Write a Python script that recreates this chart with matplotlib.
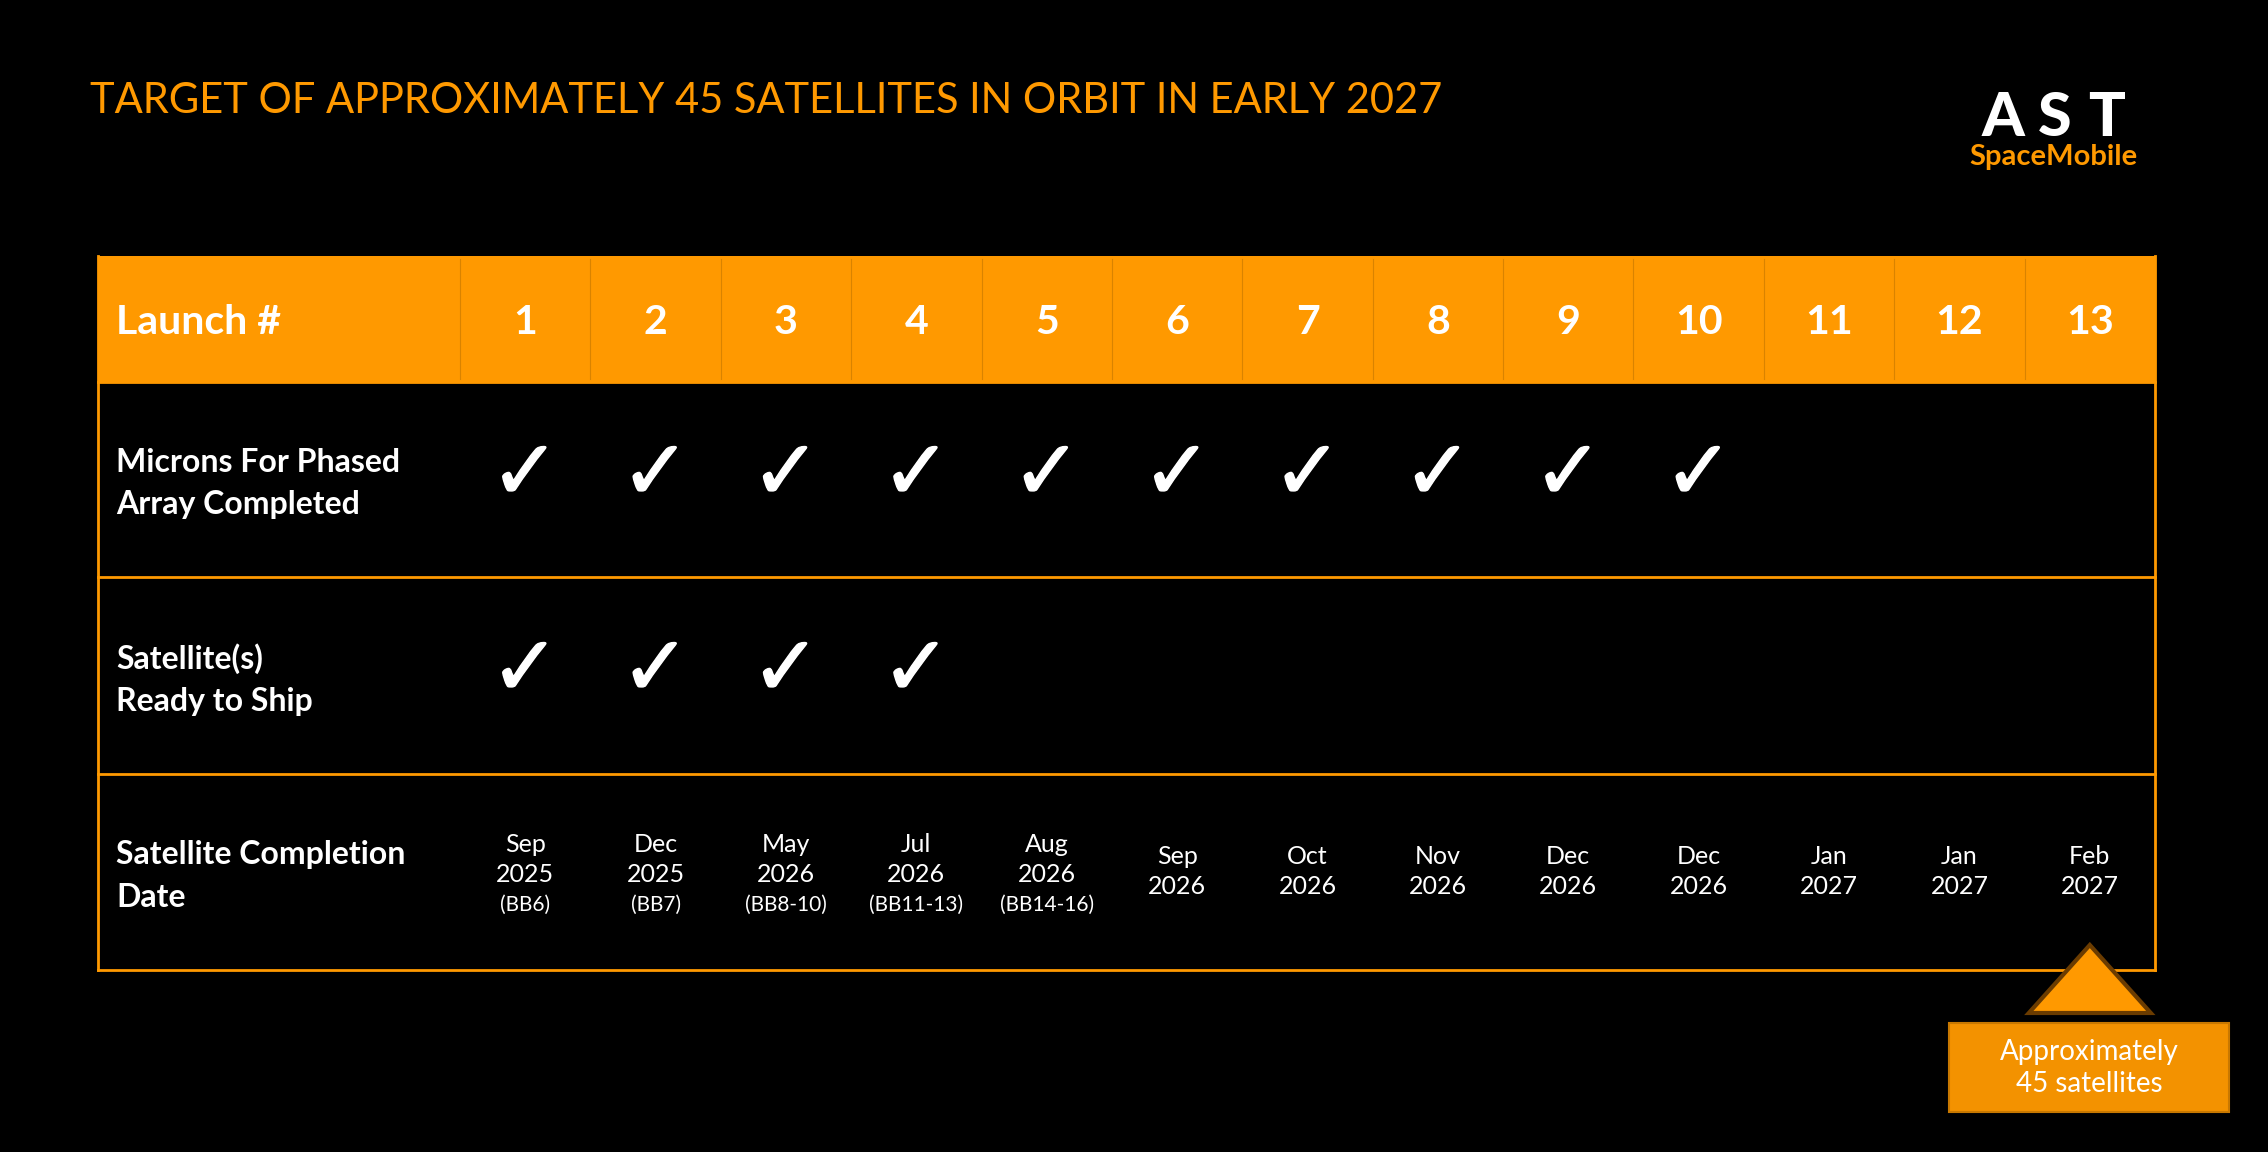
import matplotlib
matplotlib.use("Agg")
from matplotlib import pyplot as plt
from matplotlib.patches import Rectangle, Polygon
import matplotlib.patheffects as pe

plt.rcParams['font.family'] = ['Lato', 'DejaVu Sans']

# table content
title = "TARGET OF APPROXIMATELY 45 SATELLITES IN ORBIT IN EARLY 2027"
row_labels = ["Launch #", "Microns For Phased\nArray Completed",
              "Satellite(s)\nReady to Ship", "Satellite Completion\nDate"]
launch_numbers = [1, 2, 3, 4, 5, 6, 7, 8, 9, 10, 11, 12, 13]
microns_completed = [True] * 10 + [False] * 3
ready_to_ship = [True] * 4 + [False] * 9
completion_months = ["Sep", "Dec", "May", "Jul", "Aug", "Sep", "Oct", "Nov",
                     "Dec", "Dec", "Jan", "Jan", "Feb"]
completion_years = [2025, 2025, 2026, 2026, 2026, 2026, 2026, 2026,
                    2026, 2026, 2027, 2027, 2027]
bus_labels = ["(BB6)", "(BB7)", "(BB8-10)", "(BB11-13)", "(BB14-16)",
              "", "", "", "", "", "", "", ""]
callout = "Approximately\n45 satellites"

orange = "#FF9900"
W, H = 2268, 1152

fig = plt.figure(figsize=(W / 100, H / 100), dpi=100, facecolor="black")
ax = fig.add_axes([0, 0, 1, 1])
ax.set_xlim(0, W)
ax.set_ylim(H, 0)
ax.axis("off")
ax.set_facecolor("black")

# layout in pixels
left, right = 98, 2155
first_w = 362
row_y = [256, 382, 577, 774, 970]
col_w = (right - left - first_w) / len(launch_numbers)
col_x = [left + first_w + col_w * (i + 0.5) for i in range(len(launch_numbers))]

ax.text(90, 101, title, color=orange, fontsize=30, va="center", ha="left")

# logo: spread letters out to mimic the wide wordmark
for letter, lx in zip("AST", [2003, 2055, 2107]):
    ax.text(lx, 118, letter, color="white", fontsize=44, fontweight="black",
            ha="center", va="center")
ax.text(2053, 157, "SpaceMobile", color=orange, fontsize=21, fontweight="bold",
        ha="center", va="center")

# header band
ax.add_patch(Rectangle((left, row_y[0]), right - left, row_y[1] - row_y[0],
                       facecolor=orange, edgecolor="none", zorder=1))
for i in range(len(launch_numbers)):
    xd = left + first_w + col_w * i
    ax.plot([xd, xd], [row_y[0] + 3, row_y[1] - 3], color="#D98300", lw=0.8, zorder=2)

# grid lines
for y in row_y[1:]:
    ax.plot([left, right], [y, y], color=orange, lw=2, zorder=3)
ax.plot([left, left], [row_y[0], row_y[-1]], color=orange, lw=2, zorder=3)
ax.plot([right, right], [row_y[0], row_y[-1]], color=orange, lw=2, zorder=3)

centers = [(row_y[i] + row_y[i + 1]) / 2 for i in range(4)]

for r, label in enumerate(row_labels):
    ax.text(116, centers[r] + 4, label, color="white", fontsize=23 if r else 29.5,
            fontweight="bold", ha="left", va="center", linespacing=1.55)

tick_fx = [pe.withStroke(linewidth=1, foreground="white")]
for i, n in enumerate(launch_numbers):
    ax.text(col_x[i], centers[0] + 4, str(n), color="white", fontsize=29.5,
            fontweight="bold", ha="center", va="center")
    if microns_completed[i]:
        ax.text(col_x[i], centers[1] - 4, "\u2713", color="white", fontsize=60,
                family="DejaVu Sans", fontweight="bold", ha="center", va="center",
                path_effects=tick_fx)
    if ready_to_ship[i]:
        ax.text(col_x[i], centers[2] - 4, "\u2713", color="white", fontsize=60,
                family="DejaVu Sans", fontweight="bold", ha="center", va="center",
                path_effects=tick_fx)
    if bus_labels[i]:
        ax.text(col_x[i], centers[3] - 28, completion_months[i], color="white",
                fontsize=18, ha="center", va="center")
        ax.text(col_x[i], centers[3] + 3, str(completion_years[i]), color="white",
                fontsize=18, ha="center", va="center")
        ax.text(col_x[i], centers[3] + 33, bus_labels[i], color="white",
                fontsize=15, ha="center", va="center")
    else:
        ax.text(col_x[i], centers[3] - 15, completion_months[i], color="white",
                fontsize=18, ha="center", va="center")
        ax.text(col_x[i], centers[3] + 15, str(completion_years[i]), color="white",
                fontsize=18, ha="center", va="center")

# callout triangle and box under the last launch
cx = col_x[-1]
ax.add_patch(Polygon([[cx, 945], [cx - 61, 1013], [cx + 61, 1013]],
                     closed=True, facecolor=orange, edgecolor="#6B3C00",
                     lw=3, zorder=4))
ax.add_patch(Rectangle((1949, 1023), 280, 89, facecolor="#F39200",
                       edgecolor="#C87800", lw=1.5, zorder=4))
ax.text(2089, 1068, callout, color="white", fontsize=20, ha="center",
        va="center", linespacing=1.3, zorder=5)

fig.savefig("out.png", dpi=100, facecolor="black")
